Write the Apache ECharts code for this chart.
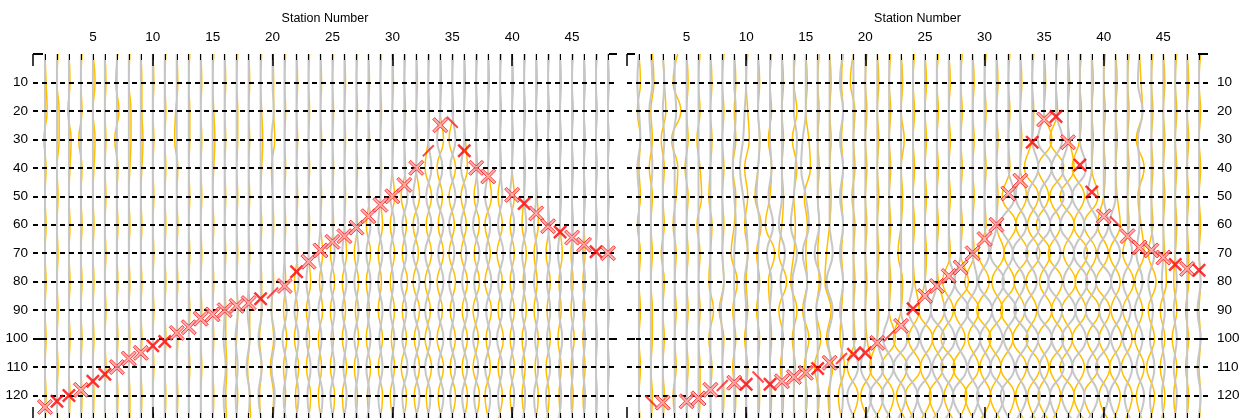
<!DOCTYPE html>
<html><head><meta charset="utf-8">
<script src="https://cdn.jsdelivr.net/npm/echarts@6/dist/echarts.min.js"></script>
<style>html,body{margin:0;padding:0;background:#fff}#c{width:1247px;height:418px}</style>
</head><body><div id="c"></div>
<script>
// ---------------- DATA ----------------
const stations = [1,2,3,4,5,6,7,8,9,10,11,12,13,14,15,16,17,18,19,20,21,22,23,24,25,26,27,28,29,30,31,32,33,34,35,36,37,38,39,40,41,42,43,44,45,46,47,48];
const xTickLabels = [5,10,15,20,25,30,35,40,45];
const xMajorTicks = [0,10,20,30,40];
const yTickLabels = [10,20,30,40,50,60,70,80,90,100,110,120];
const traceTimes = [0,10,20,30,40,50,60,70,80,90,100,110,120,130];

// first-break picks (time) per station; null = no pick
const leftPicks = [124,122,120,118,115,112.5,110,107,105,102.5,101,98,96,93,91.5,90,88.5,87.5,86,84,81.5,76.5,73,69,66,64,61,57,53,50,46,40,34,25,24,34,40,43,null,49.5,52.5,56,60.5,62.5,64.5,67,69.5,70];
const leftPickType = ['O','F','F','O','F','F','O','O','O','F','F','O','O','O','O','O','O','O','F','S','O','F','O','O','O','O','O','O','O','O','O','O','S','O','S','F','O','O','-','O','F','O','O','F','O','O','F','O'];
const rightPicks = [null,122,122.5,null,122,121,118,116.5,115.5,116,113.5,116,115,113.5,112,110.5,108.5,107,105.5,105,101.5,99,95.5,89.5,85,81.5,78,75,70,65,60,49,44.5,31,23,22,31,39,48.5,57,59,64,68,69,71.5,74,75.5,76];
const rightPickType = ['-','S','O','-','O','O','O','S','O','F','S','F','O','O','O','F','O','S','F','F','O','S','O','F','O','O','O','O','O','O','O','O','O','F','O','F','O','F','F','O','S','O','O','O','O','F','O','F'];

// trace deflections (relative units) sampled at traceTimes; [] = flat trace
const leftYellow = [
[0,1,2,-1,1,0,1,0,1,0,1,0,1,0],[1,0,2,2,0,1,0,1,0,1,0,1,0,1],[0,1,-1,2,1,0,1,0,1,0,1,0,1,0],[1,0,1,-2,1,0,1,0,1,0,1,0,1,0],
[0,2,0,2,1,0,1,0,1,0,1,0,1,0],[0,1,0,1,0,1,0,1,0,1,0,1,0,1],[1,-1,2,-2,1,0,1,0,1,0,1,0,1,0],[1,0,2,2,1,0,1,0,1,0,1,0,1,1],
[0,1,1,2,1,0,1,0,1,0,1,0,1,0],[0,1,0,1,0,1,0,1,0,1,0,1,0,1],[1,0,1,0,1,0,1,0,1,0,1,0,1,0],[0,1,-1,-2,1,0,1,0,1,0,1,0,1,0],
[1,0,1,1,0,1,0,1,0,1,0,1,0,1],[0,1,0,1,0,1,0,1,0,1,0,1,0,1],[1,0,1,2,1,0,1,0,1,0,1,0,1,0],[0,1,0,1,0,1,0,1,0,1,1,2,1,2],
[1,0,1,1,0,1,0,1,0,1,0,-1,1,-1],[0,1,0,1,0,1,0,1,0,1,1,-1,1,2],[1,0,1,2,1,0,1,0,1,1,-1,1,-1,1],[0,1,1,2,-1,0,1,0,1,-1,1,-2,1,-1],
[1,0,1,0,1,0,1,0,1,-1,2,-1,1,-2],[0,1,0,1,0,1,0,1,-2,1,-2,2,-1,2],[1,0,1,0,1,0,1,0,2,-2,1,-2,2,-1],[0,1,0,1,0,1,0,2,-1,2,-2,1,-2,2],
[1,0,1,0,1,0,1,-2,2,-2,1,-2,2,-1],[0,1,0,1,0,1,0,2,-2,1,-2,2,-2,1],[1,0,1,0,1,0,1,-2,2,-1,2,-2,1,-2],[0,1,0,1,0,1,-2,2,-2,1,-2,2,-1,2],
[1,0,1,0,1,0,2,-2,1,-2,2,-2,2,-1],[0,1,0,1,0,2,-2,2,-2,2,-1,2,-2,2],[1,0,1,0,1,-3,2,-2,3,-2,2,-3,2,-2],[0,1,0,1,0,3,-3,2,-3,3,-2,3,-2,3],
[1,0,1,0,-3,3,-2,3,-3,2,-3,3,-2,2],[0,1,0,3,-3,2,-2,3,-3,2,-3,3,-2,3],[1,0,1,-3,3,-3,2,-3,3,-2,3,-2,3,-3],[0,1,0,1,3,-3,2,-3,3,-2,3,-2,3,-2],
[1,0,1,0,1,-2,3,-2,3,-3,2,-3,3,-2],[0,1,0,1,0,3,-3,2,-3,3,-2,2,-3,2],[1,0,1,0,1,-2,2,-3,2,-2,3,-2,2,-3],[0,1,0,1,0,2,-2,2,-2,2,-2,2,-2,2],
[1,0,1,0,1,0,-2,2,-1,2,-2,1,-2,2],[0,1,0,1,0,1,2,-2,1,-2,2,-1,2,-1],[1,0,1,0,1,0,1,-2,2,-1,2,-2,1,-2],[0,1,0,1,0,1,0,2,-1,1,-2,1,-1,2],
[1,0,1,0,1,0,1,-1,1,-1,2,-1,1,-1],[0,1,0,1,0,1,0,1,-1,1,-1,1,-1,1],[1,0,1,0,1,0,1,0,1,0,1,0,1,0],[0,1,0,1,0,1,0,1,0,1,0,1,0,1]
];
const leftGray = [
[],[],[],[],[],[],[],[],[],[],[],[],[],[],[],
[0,0,0,0,0,0,0,0,0,0,-1,1,-1,1],[0,0,0,0,0,0,0,0,0,1,-1,1,-1,1],[0,0,0,0,0,0,0,0,0,-1,1,-2,1,-1],[0,0,0,0,0,0,0,0,0,1,-2,1,-2,2],
[0,0,1,-1,0,0,0,0,0,-1,2,-1,2,-1],[0,0,0,0,0,0,0,0,-1,2,-2,2,-1,2],[0,0,0,0,0,0,0,0,2,-2,2,-1,2,-2],[0,0,0,0,0,0,0,0,-2,1,-2,2,-1,2],
[0,0,0,0,0,0,0,-2,2,-2,1,-2,2,-1],[0,0,0,0,0,0,0,2,-2,2,-1,2,-2,2],[0,0,0,0,0,0,0,-2,2,-2,2,-1,2,-2],[0,0,0,0,0,0,0,2,-2,2,-2,2,-1,2],
[0,0,0,0,0,0,2,-2,2,-1,2,-2,1,-2],[0,0,0,0,0,0,-2,2,-2,2,-1,2,-2,2],[0,0,0,0,0,-2,2,-2,1,-2,2,-1,2,-2],[0,0,0,0,0,3,-2,2,-3,2,-2,3,-2,2],
[0,0,0,0,0,-3,2,-3,3,-2,3,-2,3,-3],[0,0,0,0,3,-2,3,-3,2,-3,2,-3,2,-2],[0,0,0,-3,2,-3,3,-2,3,-2,3,-2,3,-3],[0,0,0,3,-2,3,-3,2,-3,2,-2,3,-2,2],
[0,0,0,0,-3,2,-3,2,-2,3,-2,3,-2,3],[0,0,0,0,0,2,-3,3,-2,2,-3,2,-2,3],[0,0,0,0,0,-3,2,-2,3,-2,2,-3,2,-2],[0,0,0,0,0,2,-2,3,-2,2,-3,2,-2,2],
[0,0,0,0,0,-2,2,-2,2,-2,2,-2,2,-2],[0,0,0,0,0,0,2,-2,1,-2,2,-2,1,-2],[0,0,0,0,0,0,-2,1,-2,2,-1,2,-2,1],[0,0,0,0,0,0,0,2,-1,2,-1,2,-2,1],
[0,0,0,0,0,0,0,-2,1,-1,2,-1,1,-2],[0,0,0,0,0,0,0,1,-1,2,-1,1,-1,1],[0,0,0,0,0,0,0,-1,1,-1,1,-1,1,-1],[],[]
];
const rightYellow = [
[0,1,-1,1,0,1,-1,1,0,1,0,1,0,1],[1,2,0,1,-1,1,0,1,0,1,1,0,1,0],[0,1,2,-1,1,0,1,-1,1,0,1,0,1,0],[2,-1,4,-2,2,1,-1,1,0,1,0,1,-1,1],
[0,1,0,1,-1,1,0,1,0,1,0,1,0,1],[1,0,1,-1,1,2,-1,1,0,1,0,1,1,0],[0,1,0,1,0,-1,1,0,-1,2,-1,1,0,1],[1,0,1,0,1,0,1,0,1,-2,1,0,1,0],
[0,1,0,1,-1,1,0,-2,2,-1,1,-1,1,0],[1,0,1,2,-1,1,-1,1,0,1,-1,1,0,1],[0,1,0,1,0,-2,2,-1,1,-1,1,0,1,0],[1,0,1,-1,1,0,-3,3,-1,0,1,0,1,0],
[0,1,0,1,0,1,0,-2,3,-2,1,-1,1,0],[1,0,2,-1,2,0,1,0,-2,2,-1,1,0,1],[0,1,0,2,3,-1,1,0,1,-2,2,-1,1,-1],[1,0,1,0,1,0,1,0,1,-1,2,-2,1,-1],
[0,1,0,1,0,1,0,-2,-3,1,-2,2,-1,1],[1,0,1,0,1,0,1,0,1,0,-1,2,-2,1],[0,-2,1,0,1,-1,1,0,1,0,1,-4,3,-3],[1,0,1,0,1,0,1,0,1,0,1,4,-3,4],
[0,1,0,1,0,1,0,1,0,1,0,-5,4,-4],[1,0,1,0,1,0,1,0,1,0,4,-5,3,-4],[0,1,0,2,0,1,0,-2,1,0,-5,4,-3,5],[1,0,1,0,1,0,1,0,1,4,-3,5,-5,3],
[0,1,0,1,0,1,0,1,0,-4,5,-3,4,-5],[1,0,1,0,1,0,1,0,1,5,-3,4,-5,3],[0,1,0,1,0,1,0,1,-4,3,-5,4,-3,5],[1,0,1,0,1,0,1,0,5,-4,3,-5,4,-3],
[0,1,0,1,0,1,0,1,-5,4,-3,4,-5,3],[1,0,1,0,1,0,1,-4,3,-5,4,-3,4,-5],[0,1,0,1,0,1,0,5,-3,4,-5,3,-4,5],[1,0,1,0,1,-4,5,-3,4,-5,3,-5,4,-3],
[0,1,0,1,0,4,-3,5,-4,3,-5,4,-3,4],[1,0,1,0,-5,4,-3,5,-4,3,-4,5,-3,4],[0,1,0,5,-4,3,-5,4,-3,5,-4,3,-4,5],[1,0,1,-4,5,-4,3,-5,4,-3,5,-4,3,-4],
[0,1,0,1,4,-5,4,-3,5,-4,3,-5,4,-3],[1,0,1,0,-5,3,-4,5,-3,4,-5,3,-4,5],[0,1,0,1,0,4,-5,3,-4,5,-3,4,-5,3],[1,0,1,0,1,0,-4,3,-5,4,-3,4,-3,5],
[0,1,0,1,0,1,3,-4,3,-3,4,-4,3,-3],[1,0,1,0,1,0,1,-3,4,-3,3,-4,3,-3],[0,1,2,-2,3,-1,1,3,-3,2,-3,3,-2,3],[1,0,1,0,1,0,1,-2,3,-2,2,-3,2,-2],
[0,1,0,1,0,1,0,1,2,-2,1,-2,1,-2],[1,0,1,0,1,0,1,0,-1,1,-2,1,-1,1],[0,1,0,1,0,1,0,1,1,-1,1,-1,1,-1],[1,0,1,0,1,0,1,0,1,0,1,0,1,0]
];
const rightGray = [
[0,-1,0,1,-1,0,0,0,0,0,0,0,0,0],[0,1,-1,0,1,0,0,0,0,0,0,0,0,0],[0,1,0,1,0,0,0,0,0,0,0,0,0,0],[0,0,1,-1,0,0,0,0,0,0,0,0,0,0],
[],[],[],[0,0,0,0,0,0,0,0,1,-1,0,0,0,0],
[0,0,1,0,-1,0,1,0,0,0,0,0,0,0],[0,0,-1,-2,-4,-2,0,1,-1,0,0,0,0,0],[0,0,0,1,0,-1,1,0,0,0,0,0,0,0],[0,0,0,0,1,-1,2,-2,1,0,0,0,0,0],
[0,0,0,0,0,0,-2,2,-1,1,0,0,0,0],[0,0,0,2,1,0,-2,2,-1,0,0,0,0,0],[0,0,0,-2,-3,0,2,-2,1,-1,0,0,0,0],[0,0,0,0,0,0,1,-2,2,-1,0,0,0,0],
[0,0,0,0,0,0,0,2,-2,2,-1,1,0,0],[1,-1,1,-1,1,-1,1,-1,1,-1,1,-1,1,-1],[0,0,0,0,0,0,0,0,0,0,0,3,-4,3],[0,0,0,0,0,0,0,0,0,0,0,-3,4,-3],
[0,0,0,0,0,0,0,0,0,0,0,4,-5,4],[0,0,0,0,0,0,0,0,0,0,-4,3,-5,4],[0,0,0,0,0,0,0,0,0,0,4,-5,3,-4],[0,0,0,0,0,0,0,0,0,-3,4,-5,3,-4],
[0,0,0,0,0,0,0,0,0,4,-3,4,-5,3],[0,0,0,0,0,0,0,0,0,-4,5,-3,4,-5],[0,0,0,0,0,0,0,0,4,-3,4,-5,3,-4],[0,0,0,0,0,0,0,0,-4,5,-3,4,-5,4],
[0,0,0,0,0,0,0,0,3,-4,5,-3,4,-3],[0,0,0,0,0,0,0,3,-4,5,-3,4,-5,3],[0,0,0,0,0,0,0,-4,5,-3,4,-4,5,-4],[0,0,0,0,0,4,-5,3,-4,5,-3,4,-5,3],
[0,0,0,0,0,-3,4,-5,3,-4,5,-3,4,-5],[0,0,0,0,4,-3,5,-4,3,-5,4,-3,5,-4],[0,0,0,-4,5,-3,4,-5,3,-4,5,-3,4,-4],[0,0,0,4,-3,5,-4,3,-5,4,-3,5,-4,3],
[0,0,0,0,-4,3,-5,4,-3,5,-4,3,-4,5],[0,0,0,0,4,-5,3,-4,5,-3,4,-5,3,-4],[0,0,0,0,0,-3,4,-5,3,-4,5,-3,4,-5],[0,0,0,0,0,0,3,-4,5,-3,4,-5,3,-4],
[0,0,0,0,0,0,-4,3,-3,4,-3,3,-4,3],[0,0,0,0,0,0,0,3,-3,2,-3,3,-2,3],[0,-1,2,-1,0,0,0,-2,2,-3,2,-2,3,-2],[0,0,0,0,0,0,0,2,-2,1,-1,2,-1,1],
[0,0,0,0,0,0,0,0,-1,1,-1,1,-1,1],[0,0,0,0,0,0,0,0,1,-1,1,-1,1,-1],[],[0,0,0,0,0,0,0,0,1,-1,1,-1,1,-1]
];

// ---------------- CHART ----------------
const FONT = '"Liberation Sans", Arial, sans-serif';
const X_MIN = 0, X_MAX = 48.75, Y_MAX = 130;
const TRACE_SCALE = [0.09, 0.13];
const X_PATH = 'path://M0,1.5L1.5,0L6,4.5L10.5,0L12,1.5L7.5,6L12,10.5L10.5,12L6,7.5L1.5,12L0,10.5L4.5,6Z';
const YELLOW = '#ffbf00', GRAY = '#c6c6c6';
const NO_LINE = {show: false, onZero: false};

function xAxes(gi) {
  const base = {gridIndex: gi, type: 'value', min: X_MIN, max: X_MAX, axisLine: NO_LINE, splitLine: {show: false}, z: 10};
  const tickStyle = {color: '#000', width: 1};
  return [
    Object.assign({}, base, {position: 'top', name: 'Station Number', nameLocation: 'middle', nameGap: 28,
      nameTextStyle: {fontFamily: FONT, fontSize: 12.5, color: '#000'},
      axisTick: {show: true, inside: true, length: 6, customValues: stations, lineStyle: tickStyle},
      axisLabel: {show: true, customValues: xTickLabels, margin: 10, fontFamily: FONT, fontSize: 13.5, color: '#000'}}),
    Object.assign({}, base, {position: 'top', axisTick: {show: true, inside: true, length: 12, customValues: xMajorTicks, lineStyle: {color: '#000', width: 1.5}}, axisLabel: {show: false}}),
    Object.assign({}, base, {position: 'bottom', axisTick: {show: true, inside: true, length: 11, customValues: stations, lineStyle: tickStyle}, axisLabel: {show: false}}),
    Object.assign({}, base, {position: 'bottom', axisTick: {show: true, inside: true, length: 17, customValues: xMajorTicks, lineStyle: {color: '#000', width: 1.5}}, axisLabel: {show: false}})
  ];
}
function yAxes(gi) {
  const main = gi === 0 ? 'left' : 'right', other = gi === 0 ? 'right' : 'left';
  const base = {gridIndex: gi, type: 'value', inverse: true, min: 0, max: Y_MAX, axisLine: NO_LINE, z: 10};
  return [
    // dashed grid lines + labels every 10
    Object.assign({}, base, {position: main, interval: 10,
      splitLine: {show: true, showMinLine: false, showMaxLine: false, lineStyle: {color: '#000', width: 2, type: [5, 4]}},
      axisTick: {show: false},
      axisLabel: {show: true, margin: gi === 0 ? 5 : 9, fontFamily: FONT, fontSize: 13.5, color: '#000',
        formatter: v => (yTickLabels.indexOf(v) >= 0 ? String(v) : '')}}),
    // major ticks (0, 100) on both sides
    Object.assign({}, base, {position: main, interval: 100, splitLine: {show: false},
      axisTick: {show: true, inside: true, length: 10, lineStyle: {color: '#000', width: 2}}, axisLabel: {show: false}}),
    Object.assign({}, base, {position: other, interval: 100, splitLine: {show: false},
      axisTick: {show: true, inside: true, length: 8, lineStyle: {color: '#000', width: 2}}, axisLabel: {show: false}})
  ];
}
function traceSeries(gi, rows, color, width, z) {
  return rows.map((row, i) => {
    const s = stations[i];
    const pts = row.length ? row.map((o, k) => [s + o * TRACE_SCALE[gi], traceTimes[k]]) : [[s, 0], [s, Y_MAX]];
    return {type: 'line', xAxisIndex: gi * 4, yAxisIndex: gi * 3, data: pts, smooth: 0.45, showSymbol: false, symbol: 'none',
      silent: true, lineStyle: {color: color, width: width}, z: z};
  });
}
function pickSeries(gi, picks, types) {
  const data = [];
  picks.forEach((t, i) => {
    if (t == null) return;
    const s = stations[i], ty = types[i];
    if (ty === 'F') {
      data.push({value: [s, t], symbol: X_PATH, symbolSize: 14, itemStyle: {color: '#ff0000'}});
    } else if (ty === 'O') {
      data.push({value: [s, t], symbol: X_PATH, symbolSize: 15, itemStyle: {color: '#ff9c9c', borderColor: '#ff1010', borderWidth: 1}});
    } else {
      const prev = picks[i - 1] != null ? picks[i - 1] : t, next = picks[i + 1] != null ? picks[i + 1] : t;
      const path = next < prev ? 'path://M0,10L10,0' : 'path://M0,0L10,10';
      data.push({value: [s, t], symbol: path, symbolSize: 11, itemStyle: {color: '#ff0000', borderColor: '#ff2020', borderWidth: 2}});
    }
  });
  return {type: 'scatter', xAxisIndex: gi * 4, yAxisIndex: gi * 3, data: data, silent: true, z: 20};
}

const chart = echarts.init(document.getElementById('c'), null, {renderer: 'canvas'});
chart.setOption({
  animation: false,
  backgroundColor: '#fff',
  grid: [
    {left: 33, width: 584, top: 54, height: 370, outerBoundsMode: 'none', containLabel: false},
    {left: 627, width: 581, top: 54, height: 370, outerBoundsMode: 'none', containLabel: false}
  ],
  xAxis: xAxes(0).concat(xAxes(1)),
  yAxis: yAxes(0).concat(yAxes(1)),
  series: [].concat(
    traceSeries(0, leftYellow, YELLOW, 1.5, 2), traceSeries(0, leftGray, GRAY, 2, 3),
    traceSeries(1, rightYellow, YELLOW, 1.5, 2), traceSeries(1, rightGray, GRAY, 2, 3),
    [pickSeries(0, leftPicks, leftPickType), pickSeries(1, rightPicks, rightPickType)]
  )
});
</script></body></html>
